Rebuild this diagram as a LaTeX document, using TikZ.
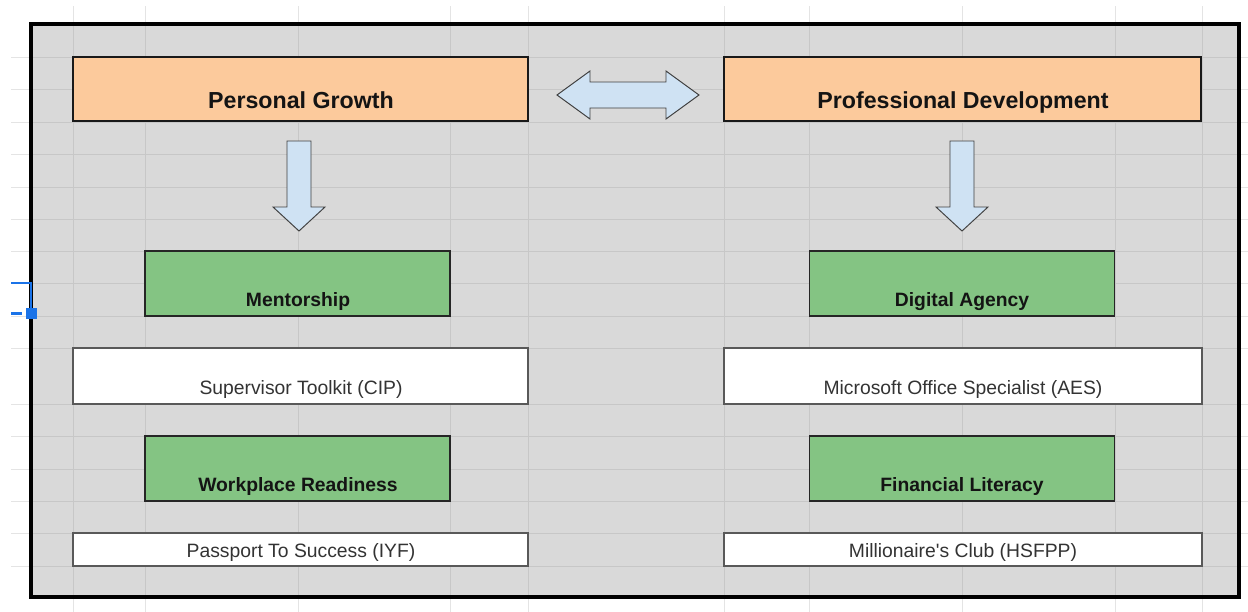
\documentclass[tikz,border=0pt]{standalone}
\usepackage{fontspec}
\setmainfont{Liberation Sans}
\usepackage{tikz}

\definecolor{sheetgray}{RGB}{217,217,217}
\definecolor{gridin}{RGB}{199,199,199}
\definecolor{gridout}{RGB}{228,228,228}
\definecolor{peach}{RGB}{252,202,156}
\definecolor{leafgreen}{RGB}{132,196,131}
\definecolor{paleblue}{RGB}{207,226,243}
\definecolor{selblue}{RGB}{26,115,232}

\begin{document}
\begin{tikzpicture}[x=0.02cm,y=-0.02cm,
	headbox/.style={draw=black!90,line width=0.85pt,fill=peach,minimum height=1.28cm,inner sep=0pt},
	skillbox/.style={draw=black!85,line width=0.8pt,fill=leafgreen,minimum width=6.1cm,minimum height=1.3cm,inner sep=0pt},
	progbox/.style={draw=black!65,line width=0.9pt,fill=white,inner sep=0pt},
	headtxt/.style={anchor=base,inner sep=0pt,font=\fontsize{13.2}{15}\selectfont\bfseries,text=black!92},
	skilltxt/.style={anchor=base,inner sep=0pt,font=\fontsize{11}{13}\selectfont\bfseries,text=black!92},
	progtxt/.style={anchor=base,inner sep=0pt,font=\fontsize{11}{13}\selectfont,text=black!80},
	blockarrow/.style={draw=black!75,line width=0.55pt,fill=paleblue,line join=miter}]
	\useasboundingbox (0,0) rectangle (1248,612);
	\fill[white] (0,0) rectangle (1248,612);
	% sheet grid outside the frame
	\foreach \gx in {73,145,298,450,528,724,809,962,1115,1202}
		\draw[gridout,line width=0.5pt] (\gx,6) -- (\gx,612);
	\foreach \gy in {57,89,122,154,187,219,251,283,316,348,404,436,469,501,533,566}
		\draw[gridout,line width=0.5pt] (11,\gy) -- (1248,\gy);
	% gray sheet and its grid
	\fill[sheetgray] (31,24) rectangle (1239,597);
	\foreach \gx in {73,145,298,450,528,724,809,962,1115,1202}
		\draw[gridin,line width=0.5pt] (\gx,24) -- (\gx,597);
	\foreach \gy in {57,89,122,154,187,219,251,283,316,348,404,436,469,501,533,566}
		\draw[gridin,line width=0.5pt] (31,\gy) -- (1239,\gy);

	% top row
	\node[headbox,minimum width=9.1cm] (pgrowth) at (300.5,89) {};
	\node[headtxt] (pgrowthtxt) at (301,108.5) {Personal Growth};
	\node[headbox,minimum width=9.54cm] (pdev) at (962.5,89) {};
	\node[headtxt] (pdevtxt) at (963,108.5) {Professional Development};
	\draw[blockarrow] (557,95) -- (590,71) -- (590,82) -- (666,82) -- (666,71) -- (699,95)
		-- (666,119) -- (666,108) -- (590,108) -- (590,119) -- cycle;
	\draw[blockarrow] (287,141) -- (311,141) -- (311,207) -- (325,207) -- (299,231) -- (273,207) -- (287,207) -- cycle;
	\draw[blockarrow] (950,141) -- (974,141) -- (974,207) -- (988,207) -- (962,231) -- (936,207) -- (950,207) -- cycle;

	% left column
	\node[skillbox] (mentor) at (297.5,283.5) {};
	\node[skilltxt] (mentortxt) at (298,306.5) {Mentorship};
	\node[progbox,minimum width=9.1cm,minimum height=1.12cm] (supkit) at (300.5,376) {};
	\node[progtxt] (supkittxt) at (301,394.5) {Supervisor Toolkit (CIP)};
	\node[skillbox] (workready) at (297.5,468.5) {};
	\node[skilltxt] (workreadytxt) at (298,491.5) {Workplace Readiness};
	\node[progbox,minimum width=9.1cm,minimum height=0.66cm] (passport) at (300.5,549.5) {};
	\node[progtxt] (passporttxt) at (301,557.5) {Passport To Success (IYF)};

	% right column
	\node[skillbox] (digital) at (962,283.5) {};
	\node[skilltxt] (digitaltxt) at (962,306.5) {Digital Agency};
	\node[progbox,minimum width=9.56cm,minimum height=1.12cm] (mos) at (963,376) {};
	\node[progtxt] (mostxt) at (963,394.5) {Microsoft Office Specialist (AES)};
	\node[skillbox] (finlit) at (962,468.5) {};
	\node[skilltxt] (finlittxt) at (962,491.5) {Financial Literacy};
	\node[progbox,minimum width=9.56cm,minimum height=0.66cm] (millclub) at (963,549.5) {};
	\node[progtxt] (millclubtxt) at (963,557.5) {Millionaire\textquotesingle s Club (HSFPP)};

	% frame
	\draw[black,line width=2.3pt] (31,24) rectangle (1239,597);
	% selection handle
	\draw[selblue,line width=1.6pt] (11,283) -- (31,283) -- (31,309);
	\draw[selblue,line width=1.6pt] (11,313.5) -- (22,313.5);
	\fill[selblue] (25.5,308) rectangle (36.5,319);
\end{tikzpicture}
\end{document}
